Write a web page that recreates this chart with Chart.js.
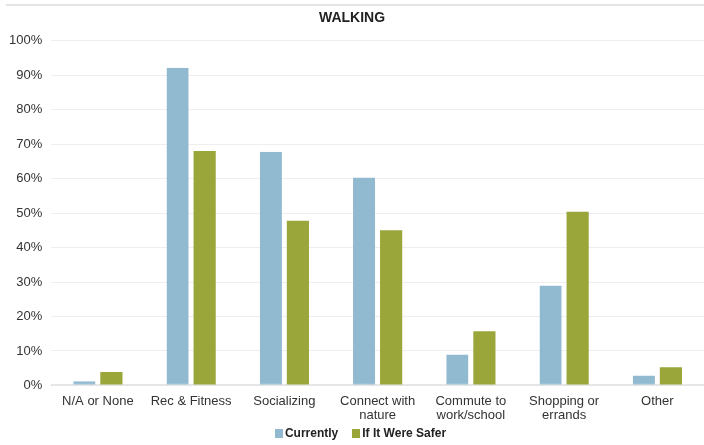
<!DOCTYPE html>
<html>
<head>
<meta charset="utf-8">
<script src="https://cdn.jsdelivr.net/npm/chart.js@4"></script>
<style>
  html, body { margin: 0; padding: 0; background: #fff; }
  #wrap { position: relative; width: 704px; height: 445px; font-family: "Liberation Sans", Arial, Helvetica, sans-serif; }
  #topline { position: absolute; left: 6px; right: 0; top: 4px; height: 0; border-top: 2px solid #e4e4e4; }
  #chart_walking { position: absolute; left: 0; top: 0; }
  .chart-legend { position: absolute; left: 0; right: 0; top: 426px; display: flex; justify-content: center; gap: 14px; padding-left: 17px; }
  .chart-legend span { display: flex; align-items: center; font-size: 12px; font-weight: bold; color: #222; }
  .chart-legend i { display: inline-block; width: 8px; height: 9px; margin-right: 2px; }
</style>
</head>
<body>
<div id="wrap">
  <div id="topline"></div>
  <canvas id="chart_walking" width="704" height="445"></canvas>
  <div class="chart-legend"></div>
</div>
<script>
// walking reasons, share of respondents (%)
const categories = [
  'N/A or None',
  'Rec & Fitness',
  'Socializing',
  ['Connect with', 'nature'],
  ['Commute to', 'work/school'],
  ['Shopping or', 'errands'],
  'Other'
];
const currently = [1.2, 92.2, 67.8, 60.3, 9.0, 29.0, 2.9];
const ifSafer = [3.9, 68.0, 47.8, 45.0, 15.7, 50.4, 5.3];
const yTicks = [0, 10, 20, 30, 40, 50, 60, 70, 80, 90, 100];

const font_family = '"Liberation Sans", Arial, Helvetica, sans-serif';

let ctx = document.getElementById('chart_walking').getContext('2d');
let chartjs = new Chart(ctx, {
  type: 'bar',
  data: {
    labels: categories,
    datasets: [
      {
        label: 'Currently',
        data: currently,
        backgroundColor: '#91b9cf',
        borderColor: '#4f9ab6',
        borderWidth: { top: 0, left: 0, right: 0, bottom: 1 },
        borderSkipped: false,
        barPercentage: 0.82,
        categoryPercentage: 0.58
      },
      {
        label: 'If It Were Safer',
        data: ifSafer,
        backgroundColor: '#9aa63a',
        borderWidth: 0,
        barPercentage: 0.82,
        categoryPercentage: 0.58
      }
    ]
  },
  options: {
    responsive: false,
    animation: false,
    layout: {
      padding: { left: 0, right: 0, top: 8, bottom: 21 }
    },
    scales: {
      x: {
        grid: { display: false },
        border: { display: false },
        ticks: {
          color: '#333',
          font: { family: font_family, size: 13, lineHeight: 1.1 },
          maxRotation: 0,
          autoSkip: false,
          padding: 1
        }
      },
      y: {
        min: 0,
        max: 100,
        afterBuildTicks: function (axis) {
          axis.ticks = yTicks.map(v => ({ value: v }));
        },
        grid: {
          color: function (c) { return c.tick && c.tick.value === 0 ? '#e6e6e6' : '#eeeeee'; },
          lineWidth: function (c) { return c.tick && c.tick.value === 0 ? 2 : 1; },
          drawTicks: false
        },
        border: { display: false },
        ticks: {
          color: '#333',
          font: { family: font_family, size: 13 },
          padding: 9,
          callback: v => v + '%'
        }
      }
    },
    plugins: {
      title: {
        display: true,
        text: 'WALKING',
        color: '#222',
        font: { family: font_family, size: 14, weight: 'bold' },
        padding: { top: 2, bottom: 14 }
      },
      legend: { display: false },
      tooltip: { enabled: false }
    }
  }
});

// legend built from the chart's own datasets
chartjs.data.datasets.forEach(ds => {
  let item = document.createElement('span');
  item.innerHTML = `<i style="background:${ds.backgroundColor}"></i>${ds.label}`;
  document.querySelector('.chart-legend').appendChild(item);
});
</script>
</body>
</html>
